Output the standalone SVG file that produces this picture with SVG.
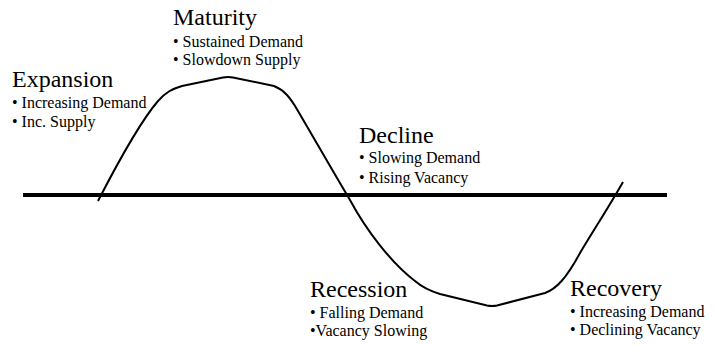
<svg xmlns="http://www.w3.org/2000/svg" width="717" height="346" viewBox="0 0 717 346">
<style>
  .title { font-size: 24px; }
  .item { font-size: 16px; }
  .axis { stroke: #000; stroke-width: 4; fill: none; }
  .curve { stroke: #000; stroke-width: 2; fill: none; stroke-linejoin: round; }
</style>
<rect width="717" height="346" fill="#fff"/>
<g id="connectors">
  <line class="axis" x1="23" y1="195" x2="667" y2="195"/>
  <path class="curve" d="M98,201 C115,168 140,122 158,101 C166,92 172,89 182,86 L223,77.5 Q228,76.5 233,77.5 L274,86 C284,90 290,97 298,111 C315,140 335,175 350,200 C365,228 390,262 415,281 C422,287 430,291 440,294 L487,305.5 Q492,306.5 497,305.5 L545,293 C556,289 566,279 580,253 C595,228 610,205 623,182"/>
</g>
<g font-family="Liberation Serif" fill="#000">
<g id="expansion">
  <text class="title" x="12" y="87">Expansion</text>
  <text class="item" x="12" y="108">• Increasing Demand</text>
  <text class="item" x="12" y="127">• Inc. Supply</text>
</g>
<g id="maturity">
  <text class="title" x="173" y="25">Maturity</text>
  <text class="item" x="173" y="47">• Sustained Demand</text>
  <text class="item" x="173" y="65">• Slowdown Supply</text>
</g>
<g id="decline">
  <text class="title" x="359" y="143">Decline</text>
  <text class="item" x="359" y="163">• Slowing Demand</text>
  <text class="item" x="359" y="183">• Rising Vacancy</text>
</g>
<g id="recession">
  <text class="title" x="310" y="297">Recession</text>
  <text class="item" x="310" y="318">• Falling Demand</text>
  <text class="item" x="310" y="336">•Vacancy Slowing</text>
</g>
<g id="recovery">
  <text class="title" x="570" y="296">Recovery</text>
  <text class="item" x="570" y="317">• Increasing Demand</text>
  <text class="item" x="570" y="335">• Declining Vacancy</text>
</g>
</g>
</svg>
